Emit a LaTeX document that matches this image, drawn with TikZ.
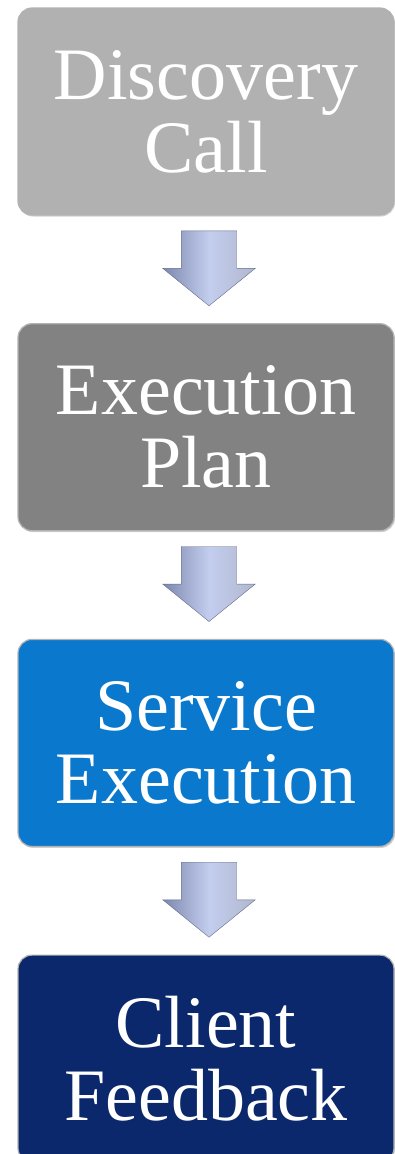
\documentclass[tikz,border=0pt]{standalone}
\usepackage{fontspec}
\setmainfont{Liberation Serif}
\usetikzlibrary{positioning,shapes.arrows,shadows}

\definecolor{callgray}{HTML}{B1B1B1}
\definecolor{plangray}{HTML}{828282}
\definecolor{serviceblue}{HTML}{0A79CD}
\definecolor{feedbacknavy}{HTML}{0A286B}
\definecolor{arrowmid}{HTML}{C3CDEE}
\definecolor{arrowedge}{HTML}{7C88AE}

\begin{document}
\begin{tikzpicture}[x=1pt, y=1pt,
        stage/.style = {rounded corners=14pt, minimum width=376pt, minimum height=207pt,
            draw=black!30, line width=1.2pt, text=white, align=center,
            font=\fontsize{74}{73}\selectfont,
            drop shadow={shadow xshift=1pt, shadow yshift=-1.5pt, opacity=.35}},
        downarrow/.style = {single arrow, rotate=-90, anchor=west,
            inner xsep=0pt, inner ysep=27.5pt,
            minimum height=75pt, minimum width=92pt,
            single arrow head extend=18.5pt, single arrow tip angle=102,
            left color=arrowedge, right color=arrowedge!60, middle color=arrowmid,
            draw=arrowedge!80!black, line width=.4pt},
        node distance=107.5pt
    ]
        \useasboundingbox (0,0) rectangle (395,-1154);
        \node[stage, fill=callgray] (call) at (206,-111.5) {Discovery\\Call};
        \node[stage, fill=plangray, below=of call] (plan) {Execution\\Plan};
        \node[stage, fill=serviceblue, below=of plan] (service) {Service\\Execution};
        \node[stage, fill=feedbacknavy, below=of service] (feedback) {Client\\Feedback};
        \node[downarrow] (arr1) at ([xshift=3pt, yshift=-15pt]call.south) {};
        \node[downarrow] (arr2) at ([xshift=3pt, yshift=-15pt]plan.south) {};
        \node[downarrow] (arr3) at ([xshift=3pt, yshift=-15pt]service.south) {};
    \end{tikzpicture}
\end{document}
